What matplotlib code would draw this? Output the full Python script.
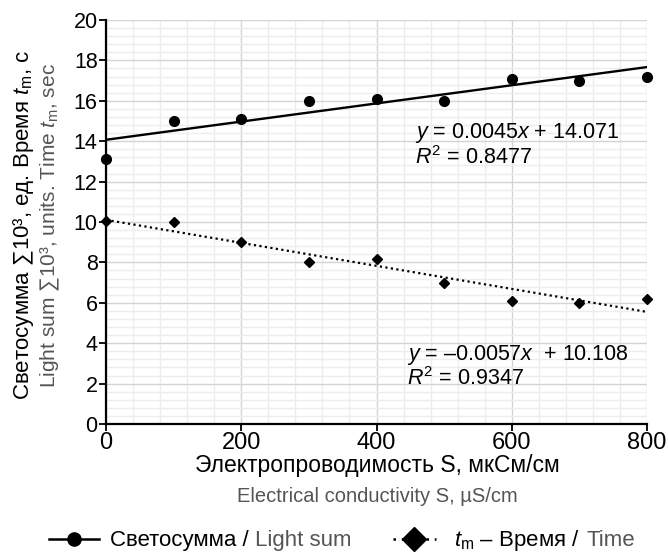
import matplotlib
matplotlib.use("Agg")
import matplotlib.pyplot as plt
from matplotlib.lines import Line2D
from matplotlib.ticker import MultipleLocator
from matplotlib.offsetbox import HPacker, TextArea, DrawingArea, AnchoredOffsetbox
import numpy as np

plt.rcParams["font.family"] = ["Liberation Sans", "DejaVu Sans"]
plt.rcParams["mathtext.fontset"] = "custom"
plt.rcParams["mathtext.rm"] = "Liberation Sans"
plt.rcParams["mathtext.it"] = "Liberation Sans:italic"

# conductivity S, uS/cm
conductivity = [0, 100, 200, 300, 400, 500, 600, 700, 800]
# light sum x10^3 units
light_sum = [13.1, 15.0, 15.1, 16.0, 16.1, 16.0, 17.1, 17.0, 17.2]
# time t_m, sec
time_tm = [10.05, 10.0, 9.0, 8.0, 8.15, 7.0, 6.1, 6.0, 6.2]

# linear trends as printed on the chart (slope, intercept, R^2)
light_fit = (0.0045, 14.071, 0.8477)
time_fit = (-0.0057, 10.108, 0.9347)

GRAY = "#555555"
DOTS = (0, (1, 1.5))

fig = plt.figure(figsize=(6.68, 5.53), dpi=100)
ax = fig.add_axes([0.1587, 0.2333, 0.81, 0.7305])

xs = np.array([0, 800])
ax.plot(xs, light_fit[0] * xs + light_fit[1], color="black", lw=1.7, zorder=3)
ax.plot(xs, time_fit[0] * xs + time_fit[1], color="black", lw=1.6, ls=DOTS, zorder=3)
ax.plot(conductivity, light_sum, "o", color="black", ms=7, zorder=4, clip_on=False)
ax.plot(conductivity, time_tm, "D", color="black", ms=5.5, zorder=4, clip_on=False)

ax.set_xlim(0, 800)
ax.set_ylim(0, 20)
ax.xaxis.set_major_locator(MultipleLocator(200))
ax.xaxis.set_minor_locator(MultipleLocator(40))
ax.yaxis.set_major_locator(MultipleLocator(2))
ax.yaxis.set_minor_locator(MultipleLocator(0.4))
ax.grid(which="major", color="#d4d4d4", lw=1)
ax.grid(which="minor", color="#ededed", lw=1)
ax.set_axisbelow(True)
for s in ["top", "right"]:
    ax.spines[s].set_visible(False)
for s in ["left", "bottom"]:
    ax.spines[s].set_linewidth(1.6)
ax.tick_params(which="major", direction="out", length=5, width=1.3, pad=1)
ax.tick_params(axis="x", labelsize=17)
ax.tick_params(axis="y", labelsize=15.5)
ax.tick_params(which="minor", length=0)

eq_fs = 15.5
ax.text(457, 14.4, "$y$ = %.4f$x$ + %.3f" % light_fit[:2], fontsize=eq_fs, va="center")
ax.text(457, 13.2, "$R^2$ = %.4f" % light_fit[2], fontsize=eq_fs, va="center")
ax.text(445, 3.42, "$y$ = \u2013%.4f$x$  + %.3f" % (-time_fit[0], time_fit[1]),
        fontsize=eq_fs, va="center")
ax.text(445, 2.23, "$R^2$ = %.4f" % time_fit[2], fontsize=eq_fs, va="center")

fig.text(0.035, 0.593, "Светосумма \u221110³, ед. Время $t_\\mathrm{m}$, с",
         rotation=90, ha="center", va="center", fontsize=16)
fig.text(0.076, 0.593, "Light sum \u221110³, units. Time $t_\\mathrm{m}$, sec",
         rotation=90, ha="center", va="center", fontsize=15, color=GRAY)
fig.text(0.565, 0.158, "Электропроводимость S, мкСм/см",
         ha="center", va="center", fontsize=16.5)
fig.text(0.565, 0.103, "Electrical conductivity S, µS/cm",
         ha="center", va="center", fontsize=14.5, color=GRAY)


# legend with two-coloured labels
def handle(width, ls, marker, ms):
    da = DrawingArea(width, 11, 0, 0)
    da.add_artist(Line2D([0, width], [5.5, 5.5], color="black", lw=1.8, ls=ls))
    da.add_artist(Line2D([width / 2], [5.5], marker=marker, ms=ms, color="black"))
    return da


def gap(width):
    return DrawingArea(width, 1, 0, 0)


leg_fs = 16
items = [
    handle(36, "-", "o", 9.5), gap(8),
    TextArea("Светосумма /", textprops=dict(fontsize=leg_fs)), gap(4.5),
    TextArea("Light sum", textprops=dict(fontsize=leg_fs, color=GRAY)), gap(30),
    handle(31, (0, (1, 2.3)), "D", 12), gap(13),
    TextArea("$t_\\mathrm{m}$ \u2013 Время /", textprops=dict(fontsize=leg_fs)), gap(4.5),
    TextArea("Time", textprops=dict(fontsize=leg_fs, color=GRAY)),
]
pack = HPacker(children=items, align="baseline", pad=0, sep=0)
box = AnchoredOffsetbox(loc="center left", child=pack, pad=0, borderpad=0,
                        bbox_to_anchor=(0.073, 0.022),
                        bbox_transform=fig.transFigure, frameon=False)
fig.add_artist(box)

fig.savefig("out.png", dpi=100)
